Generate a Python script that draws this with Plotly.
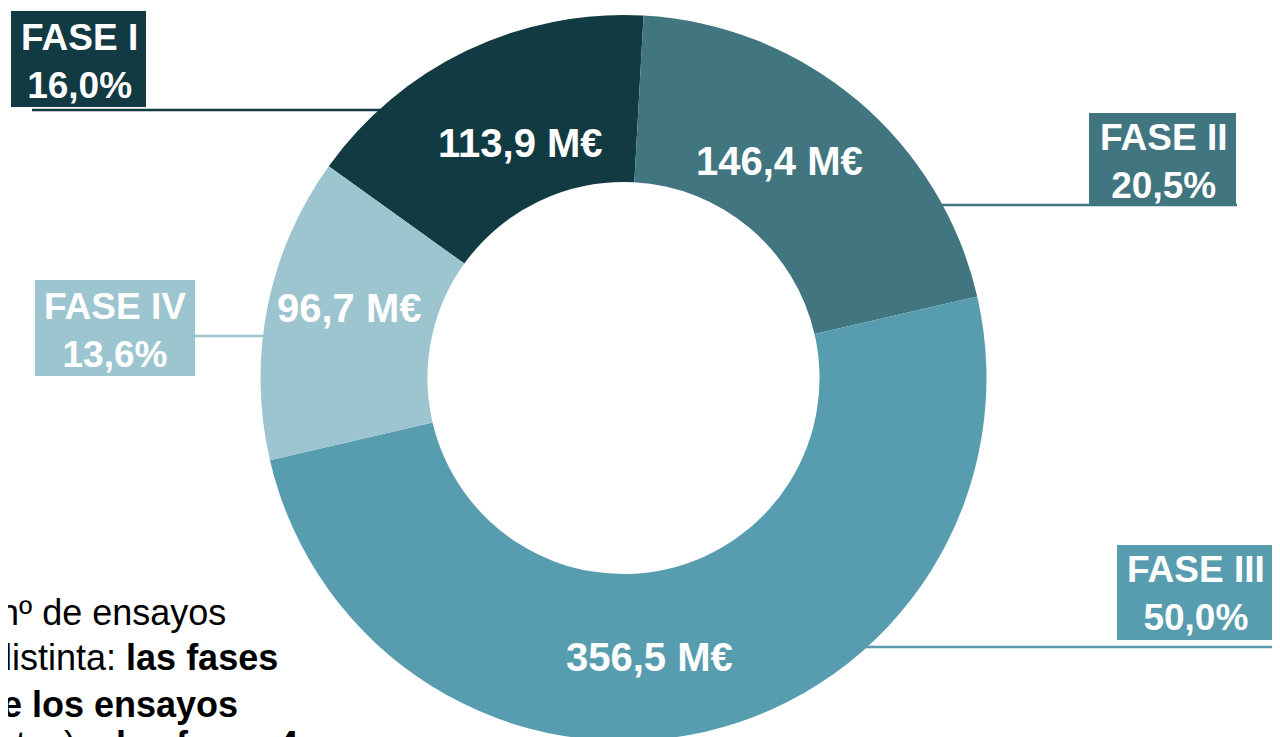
import plotly.graph_objects as go

# ---------------- data ----------------
phases = ["FASE I", "FASE II", "FASE III", "FASE IV"]
amounts_meur = [113.9, 146.4, 356.5, 96.7]
share_labels = ["16,0%", "20,5%", "50,0%", "13,6%"]
colors = ["#123A42", "#417681", "#589DAF", "#9CC5CF"]

# ---------------- layout helpers ----------------
W, H = 1280, 737
OFF = 8  # page body margin offset (figure drawn at 8,8 in the window)


def px(x):
    return (x - OFF) / W


def py(y):
    return 1 - (y - OFF) / H


def fmt_eur(v):
    return f"{v:.1f}".replace(".", ",") + " M€"


CX, CY, R = 623.5, 378, 363   # donut centre / radius in window pixels
fig = go.Figure()
fig.add_trace(go.Pie(
    labels=phases,
    values=amounts_meur,
    marker=dict(colors=colors, line=dict(width=0)),
    hole=0.54,
    sort=False,
    direction="clockwise",
    rotation=-54.3,
    textinfo="none",
    hoverinfo="label+value",
    showlegend=False,
    domain=dict(x=[px(CX - 400), px(CX + 400)], y=[py(CY + R), py(CY - R)]),
))

# value labels inside the slices (window-pixel centres)
value_pos = [(520, 143), (779, 161), (649, 657), (349, 308)]
annotations = []
for v, (x, y) in zip(amounts_meur, value_pos):
    annotations.append(dict(
        x=px(x), y=py(y), xref="paper", yref="paper",
        text=f"<b>{fmt_eur(v)}</b>", showarrow=False,
        xanchor="center", yanchor="middle",
        font=dict(family="Liberation Sans, Arial", size=40, color="white"),
    ))

# phase boxes: (x0, y0, x1, y1) and connector lines (xa, xb, y)
boxes = [(11, 11, 146, 107), (1089, 113, 1236, 205), (1117, 545, 1275, 640), (35, 280, 195, 376)]
text_centres = [(79, 61), (1163, 161), (1196, 593), (115, 330)]
connectors = [(32, 395, 110), (930, 1237, 205), (855, 1290, 647), (195, 275, 336)]

shapes = []
for i, name in enumerate(phases):
    xa, xb, yl = connectors[i]
    shapes.append(dict(type="line", xref="paper", yref="paper",
                       x0=px(xa), x1=px(xb), y0=py(yl), y1=py(yl),
                       line=dict(color=colors[i], width=2.5), layer="below"))
    x0, y0, x1, y1 = boxes[i]
    shapes.append(dict(type="rect", xref="paper", yref="paper",
                       x0=px(x0), x1=px(x1), y0=py(y1), y1=py(y0),
                       fillcolor=colors[i], line=dict(width=0), layer="above"))
    cx, cy = text_centres[i]
    annotations.append(dict(
        x=px(cx), y=py(cy), xref="paper", yref="paper",
        text=f"<b>{name}<br>{share_labels[i]}</b>", showarrow=False,
        xanchor="center", yanchor="middle", align="center",
        font=dict(family="Liberation Sans, Arial", size=37, color="white"),
    ))

# cut-off body text at bottom left
SIDE_SIZE = 36
side_lines = [
    ("nº de ensayos", 228, 625),
    ("distinta: <b>las fases</b>", 280, 670),
    ("<b>e los ensayos</b>", 240, 717),
    ("ntes) <b>y las fases 4</b>", 300, 757),
]
for txt, xr, base in side_lines:
    annotations.append(dict(
        x=px(xr), y=py(base - 0.35 * SIDE_SIZE), xref="paper", yref="paper",
        text=txt, showarrow=False, xanchor="right", yanchor="middle",
        font=dict(family="Liberation Sans, Arial", size=SIDE_SIZE, color="black"),
    ))

fig.update_layout(
    width=W, height=H,
    margin=dict(l=0, r=0, t=0, b=0),
    paper_bgcolor="white", plot_bgcolor="white",
    shapes=shapes, annotations=annotations,
)

fig.write_html("out.html")
